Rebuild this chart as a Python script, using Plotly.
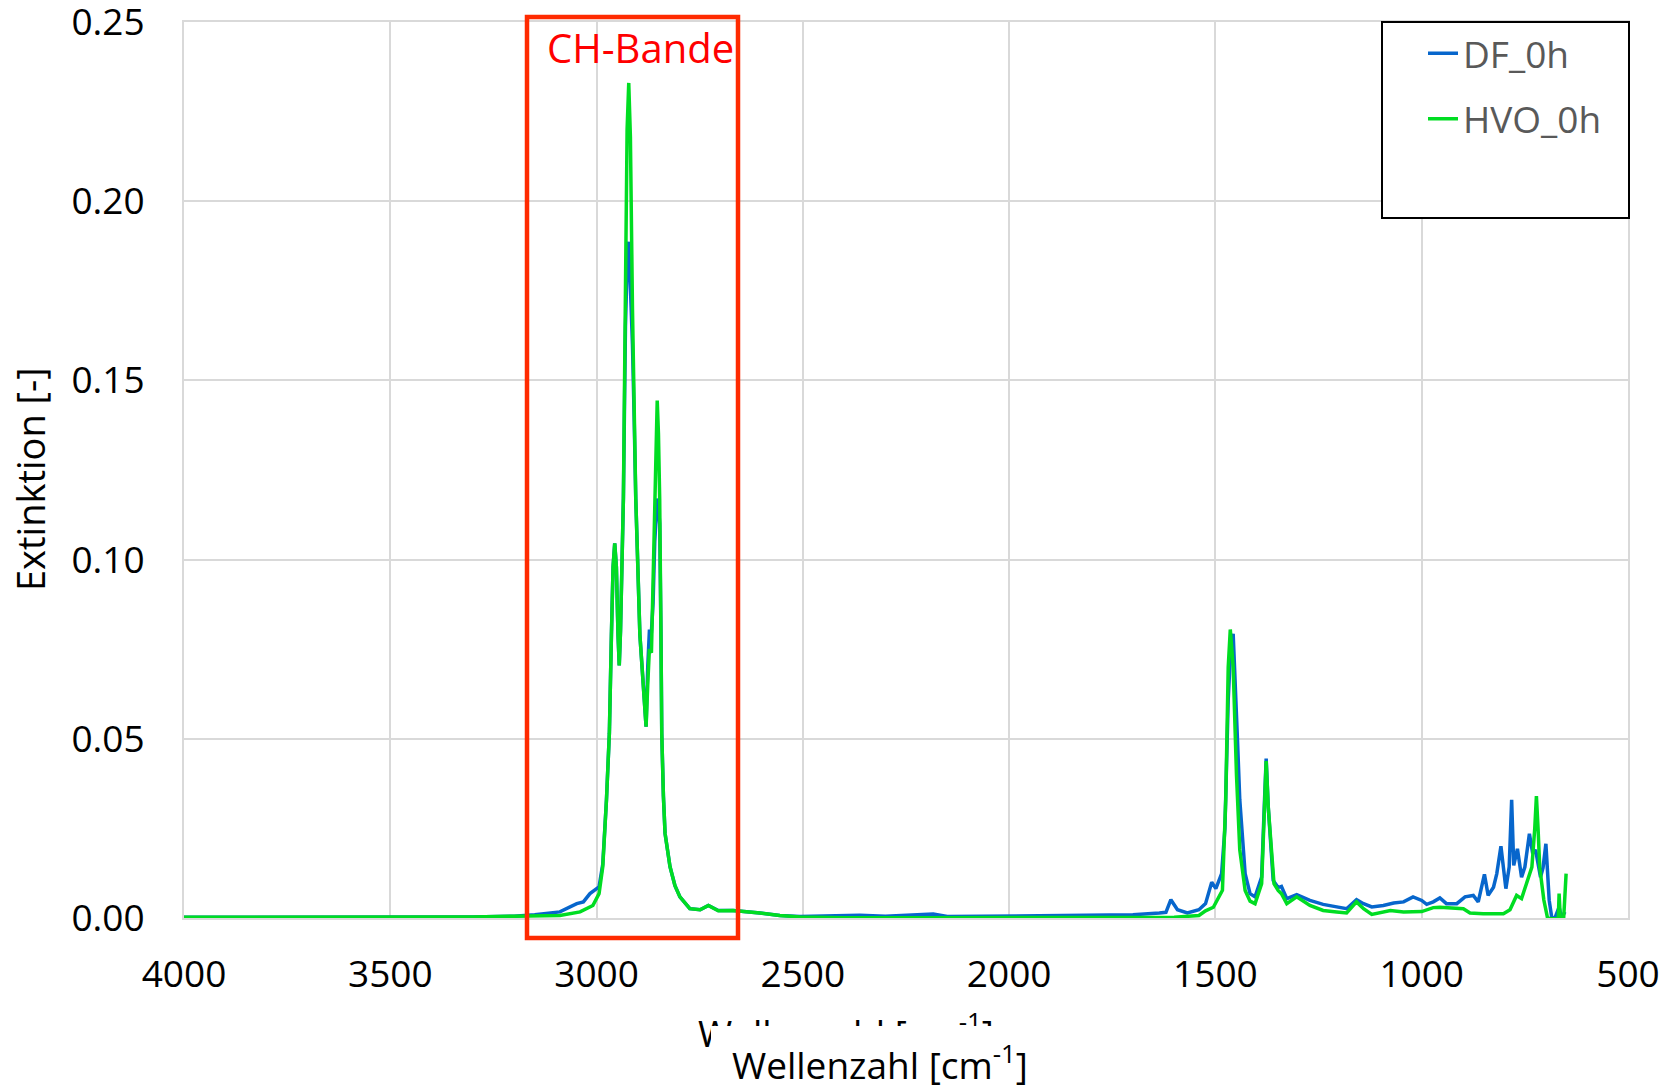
import plotly.graph_objects as go

# FTIR spectra: wavenumber [cm-1] and extinction [-]
wn_df = [4000, 3900, 3800, 3700, 3600, 3500, 3400, 3300, 3200, 3150, 3089, 3060, 3048, 3032,
         3016, 2994, 2985, 2976, 2969, 2964, 2960, 2956, 2952, 2948, 2945, 2942, 2939, 2935,
         2930, 2926, 2922, 2918, 2913, 2909, 2905, 2895, 2887, 2883, 2880, 2876, 2872, 2867,
         2863, 2859, 2855, 2853, 2850, 2847, 2844, 2842, 2838, 2834, 2822, 2810, 2798, 2774,
         2749, 2729, 2705, 2669, 2604, 2556, 2507, 2362, 2300, 2184, 2150, 2050, 2000, 1900,
         1781, 1700, 1636, 1620, 1608, 1592, 1568, 1540, 1524, 1509, 1499, 1485, 1477, 1469,
         1463, 1457, 1447, 1441, 1428, 1416, 1404, 1388, 1382, 1377, 1372, 1366, 1360, 1348,
         1340, 1327, 1303, 1271, 1239, 1206, 1182, 1158, 1141, 1121, 1093, 1068, 1044, 1021,
         1000, 988, 972, 956, 940, 915, 895, 875, 863, 848, 839, 826, 818, 808, 796, 788, 782,
         777, 768, 758, 750, 739, 731, 724, 712, 706, 699, 691, 685, 677, 667, 661, 653]
ext_df = [0.0002, 0.0002, 0.0002, 0.0002, 0.0002, 0.0002, 0.0002, 0.0003, 0.0005, 0.0009,
          0.0017, 0.0032, 0.0040, 0.0045, 0.0068, 0.0087, 0.0150, 0.0330, 0.0515, 0.0790,
          0.0980, 0.1045, 0.0980, 0.0790, 0.0705, 0.0800, 0.0980, 0.1170, 0.1650, 0.1820,
          0.1887, 0.1780, 0.1600, 0.1400, 0.1170, 0.0790, 0.0660, 0.0590, 0.0534, 0.0700,
          0.0800, 0.0800, 0.0880, 0.1050, 0.1170, 0.1170, 0.1150, 0.1100, 0.0800, 0.0515,
          0.0340, 0.0236, 0.0143, 0.0090, 0.0059, 0.0026, 0.0023, 0.0035, 0.0021, 0.0021,
          0.0014, 0.0007, 0.0004, 0.0008, 0.0005, 0.0011, 0.0004, 0.0005, 0.0004, 0.0005,
          0.0006, 0.0009, 0.0014, 0.0016, 0.0051, 0.0023, 0.0014, 0.0023, 0.0040, 0.0100,
          0.0082, 0.0124, 0.0250, 0.0610, 0.0750, 0.0793, 0.0510, 0.0330, 0.0124, 0.0068,
          0.0059, 0.0114, 0.0300, 0.0445, 0.0310, 0.0217, 0.0105, 0.0085, 0.0088, 0.0054,
          0.0065, 0.0049, 0.0038, 0.0031, 0.0026, 0.0051, 0.0040, 0.0031, 0.0035, 0.0042,
          0.0045, 0.0059, 0.0049, 0.0038, 0.0045, 0.0056, 0.0040, 0.0040, 0.0059, 0.0063,
          0.0045, 0.0122, 0.0063, 0.0086, 0.0124, 0.0200, 0.0082, 0.0142, 0.0330, 0.0147,
          0.0193, 0.0114, 0.0142, 0.0235, 0.0180, 0.0190, 0.0114, 0.0140, 0.0207, 0.0049,
          0.0003, 0.0000, 0.0030, 0.0000, 0.0017]

wn_hvo = [4000, 3900, 3800, 3700, 3600, 3500, 3400, 3300, 3200, 3089, 3040, 3009, 2994, 2985,
          2976, 2969, 2964, 2960, 2956, 2952, 2948, 2945, 2942, 2939, 2935, 2930, 2926, 2922,
          2918, 2913, 2909, 2905, 2895, 2887, 2883, 2880, 2876, 2872, 2867, 2863, 2859, 2855,
          2853, 2850, 2847, 2844, 2842, 2838, 2834, 2822, 2810, 2798, 2774, 2749, 2729, 2705,
          2669, 2604, 2556, 2507, 2400, 2200, 2000, 1800, 1600, 1540, 1524, 1505, 1490, 1483,
          1475, 1469, 1464, 1457, 1449, 1441, 1428, 1416, 1404, 1388, 1382, 1377, 1372, 1366,
          1358, 1348, 1340, 1327, 1303, 1271, 1239, 1206, 1182, 1158, 1141, 1121, 1076, 1044,
          1000, 972, 956, 899, 883, 851, 802, 786, 770, 758, 746, 733, 726, 722, 718, 714, 704,
          695, 685, 669, 667, 664, 656, 650]
ext_hvo = [0.0002, 0.0002, 0.0002, 0.0002, 0.0002, 0.0002, 0.0002, 0.0003, 0.0005, 0.0007,
           0.0017, 0.0035, 0.0068, 0.0143, 0.0330, 0.0515, 0.0790, 0.0980, 0.1045, 0.0980,
           0.0790, 0.0705, 0.0800, 0.0980, 0.1170, 0.1750, 0.2200, 0.2330, 0.2180, 0.1700,
           0.1400, 0.1170, 0.0790, 0.0660, 0.0590, 0.0534, 0.0650, 0.0750, 0.0740, 0.0950,
           0.1170, 0.1400, 0.1444, 0.1350, 0.1170, 0.0800, 0.0515, 0.0340, 0.0236, 0.0143,
           0.0090, 0.0059, 0.0026, 0.0023, 0.0035, 0.0020, 0.0021, 0.0014, 0.0007, 0.0003,
           0.0001, 0.0001, 0.0001, 0.0001, 0.0002, 0.0007, 0.0020, 0.0030, 0.0060, 0.0077,
           0.0330, 0.0700, 0.0805, 0.0700, 0.0400, 0.0190, 0.0077, 0.0047, 0.0040, 0.0096,
           0.0280, 0.0438, 0.0310, 0.0207, 0.0096, 0.0077, 0.0068, 0.0040, 0.0059, 0.0035,
           0.0021, 0.0017, 0.0014, 0.0045, 0.0026, 0.0010, 0.0021, 0.0017, 0.0018, 0.0029,
           0.0030, 0.0026, 0.0014, 0.0012, 0.0012, 0.0023, 0.0063, 0.0054, 0.0096, 0.0142,
           0.0250, 0.0340, 0.0250, 0.0142, 0.0050, 0.0000, -0.0002, -0.0002, 0.0068, -0.0002,
           -0.0002, 0.0124]

series_names = ["DF_0h", "HVO_0h"]
x_ticks = [4000, 3500, 3000, 2500, 2000, 1500, 1000, 500]
y_ticks = [0.00, 0.05, 0.10, 0.15, 0.20, 0.25]

FONT = "Open Sans, Liberation Sans, sans-serif"
BLUE = "#0766CC"
GREEN = "#00DD22"
GRID = "#D9D9D9"

# plot area in pixels
W, H = 1677, 1088
ML, MR, MT, MB = 184, 49, 22, 170
PW, PH = W - ML - MR, H - MT - MB


def px(xpix):
    return (xpix - ML) / PW


def py(ypix):
    return (H - MB - ypix) / PH


fig = go.Figure()
fig.add_trace(go.Scatter(x=wn_df, y=ext_df, mode="lines", name=series_names[0],
                         legendgroup="a", line=dict(color=BLUE, width=3.5)))
fig.add_trace(go.Scatter(x=wn_hvo, y=ext_hvo, mode="lines", name=series_names[1],
                         legendgroup="b", line=dict(color=GREEN, width=3.5)))

# highlighted CH band
fig.add_shape(type="rect", xref="paper", yref="paper",
              x0=px(527), x1=px(738), y0=py(938), y1=py(17),
              line=dict(color="#FF2A00", width=4.5), fillcolor="rgba(0,0,0,0)", layer="above")

# legend frame
fig.add_shape(type="rect", xref="paper", yref="paper",
              x0=px(1382), x1=px(1629), y0=py(218), y1=py(22),
              line=dict(color="black", width=2), fillcolor="white", layer="above")

annotations = [
    dict(text="CH-Bande", xref="paper", yref="paper", x=px(640), y=py(48),
         xanchor="center", yanchor="middle", showarrow=False,
         font=dict(family=FONT, size=40, color="#FF0000")),
    dict(text="Extinktion [-]", xref="paper", yref="paper", x=px(30), y=py(479),
         xanchor="center", yanchor="middle", textangle=-90, showarrow=False,
         font=dict(family=FONT, size=38, color="black")),
    # upper copy of the axis title, partly hidden by the box below it
    dict(text="Wellenzahl [cm<sup>-1</sup>]", xref="paper", yref="paper", x=px(846), y=py(1030),
         xanchor="center", yanchor="middle", showarrow=False,
         font=dict(family=FONT, size=37, color="black")),
    dict(text=" ", xref="paper", yref="paper", x=px(711), y=py(1026),
         xanchor="left", yanchor="top", showarrow=False, width=370, height=64,
         bgcolor="white", borderpad=0, borderwidth=0,
         font=dict(family=FONT, size=10, color="white")),
    dict(text="Wellenzahl [cm<sup>-1</sup>]", xref="paper", yref="paper", x=px(880), y=py(1062),
         xanchor="center", yanchor="middle", showarrow=False,
         font=dict(family=FONT, size=37, color="black")),
]

fig.update_layout(
    width=W, height=H,
    margin=dict(l=ML, r=MR, t=MT, b=MB, pad=0, autoexpand=False),
    paper_bgcolor="white", plot_bgcolor="white",
    font=dict(family=FONT, size=37, color="black"),
    annotations=annotations,
    showlegend=True,
    legend=dict(x=px(1423), y=py(22.6), xanchor="left", yanchor="top",
                bgcolor="rgba(0,0,0,0)", borderwidth=0,
                font=dict(family=FONT, size=37, color="#595959"),
                traceorder="grouped", tracegroupgap=14.5),
    xaxis=dict(range=[4000, 500], tickvals=x_ticks, ticktext=[str(v) for v in x_ticks],
               showgrid=True, gridcolor=GRID, gridwidth=2, zeroline=False,
               showline=True, linecolor=GRID, linewidth=2, mirror=True,
               ticks="", ticklabelstandoff=23, ticklabeloverflow="allow",
               automargin=False,
               tickfont=dict(family=FONT, size=37, color="black")),
    yaxis=dict(range=[0, 0.25], tickvals=y_ticks, tickformat=".2f",
               showgrid=True, gridcolor=GRID, gridwidth=2, zeroline=False,
               showline=True, linecolor=GRID, linewidth=2, mirror=True,
               ticks="", ticklabelstandoff=30, ticklabeloverflow="allow",
               automargin=False,
               tickfont=dict(family=FONT, size=37, color="black")),
)

fig.write_html("out.html")
